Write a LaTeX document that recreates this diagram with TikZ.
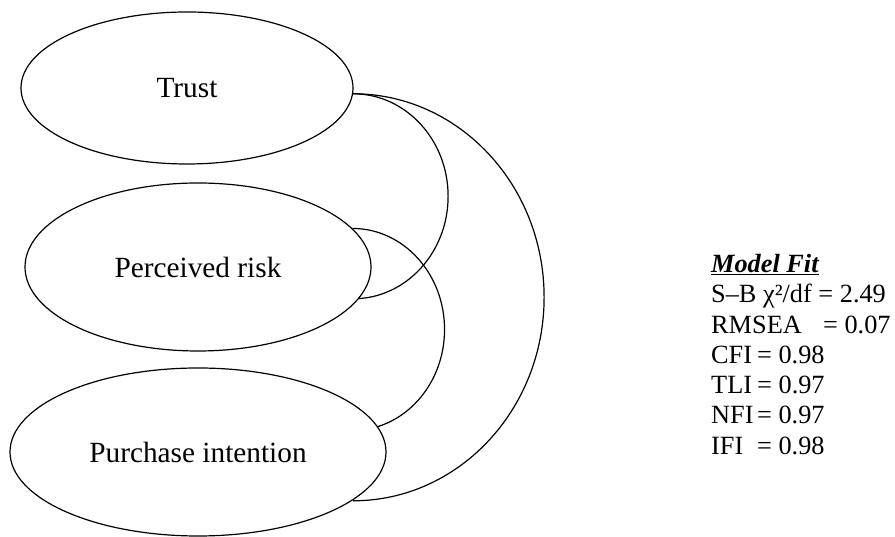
\documentclass[tikz,border=0pt]{standalone}
\usepackage{fontspec}
\setmainfont{Liberation Serif}
\usetikzlibrary{shapes.geometric,backgrounds}

\begin{document}
\begin{tikzpicture}[
    x=1pt, y=1pt,
    factor/.style={draw, ellipse, fill=white, line width=1.2pt, inner sep=0pt, font=\fontsize{29.3}{34}\selectfont},
    corr/.style={line width=1.2pt},
]
    \useasboundingbox (0,0) rectangle (895,537);

    % Latent factors
    \node[factor, minimum width=332, minimum height=152] (trust) at (187,449) {Trust};
    \node[factor, minimum width=346, minimum height=168] (risk) at (198,270) {Perceived risk};
    \node[factor, minimum width=376, minimum height=168] (intent) at (198,85) {Purchase intention};

    % Correlations (behind the ellipses)
    \begin{pgfonlayer}{background}
        \draw[corr] (trust.-2.8) arc[start angle=90, end angle=-90, x radius=95, y radius=102.5];
        \draw[corr] (trust.-2.8) arc[start angle=90, end angle=-90, x radius=191, y radius=203.5];
        \draw[corr] (risk.14.5) arc[start angle=90, end angle=-90, x radius=92, y radius=101];
    \end{pgfonlayer}

    % Model fit
    \node[anchor=north west, align=left, inner sep=0pt, font=\fontsize{26.3}{30.3}\selectfont] (fit) at (711,283) {%
        \underline{\textbf{\textit{Model Fit}}}\\
        S–B χ²/df = 2.49\\
        \makebox[112pt][l]{RMSEA}= 0.07\\
        \makebox[46pt][l]{CFI}= 0.98\\
        \makebox[46pt][l]{TLI}= 0.97\\
        \makebox[46pt][l]{NFI}= 0.97\\
        \makebox[46pt][l]{IFI}= 0.98};
\end{tikzpicture}
\end{document}
